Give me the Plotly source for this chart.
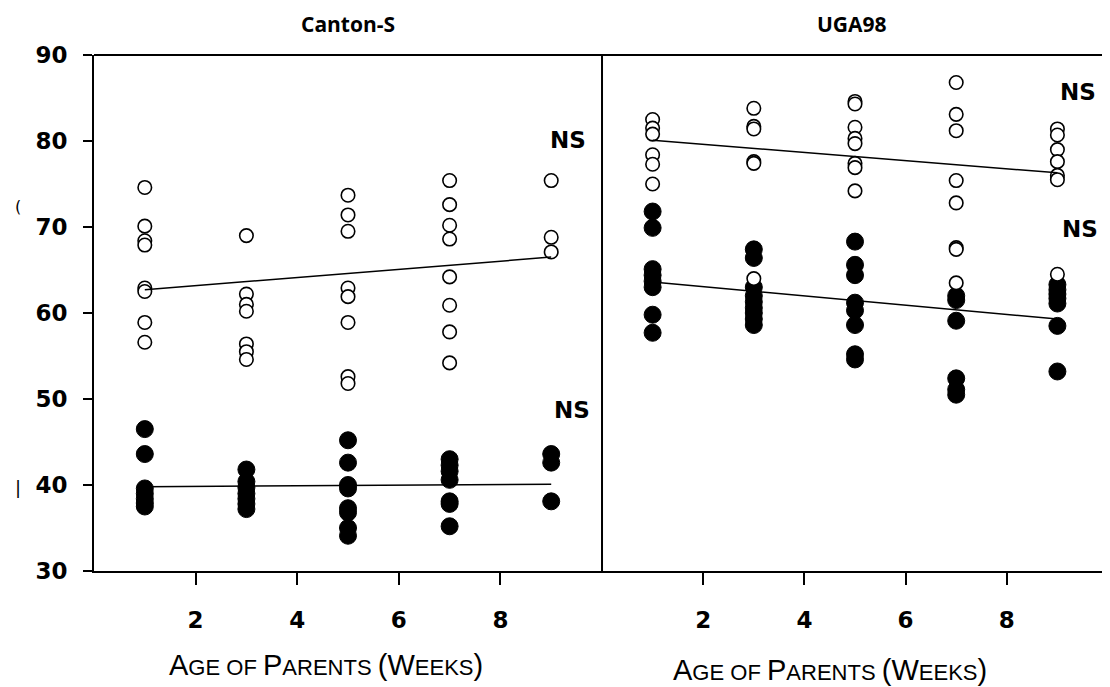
import plotly.graph_objects as go

# ---------------- data ----------------
ages = [1, 3, 5, 7, 9]

# Canton-S (left panel)
cs_open = {
    1: [74.6, 70.1, 68.4, 67.9, 62.9, 62.5, 58.9, 56.6],
    3: [69.0, 62.2, 61.0, 60.2, 56.4, 55.5, 54.6],
    5: [73.7, 71.4, 69.5, 62.9, 61.9, 58.9, 52.6, 51.8],
    7: [75.4, 72.6, 70.2, 68.6, 64.2, 60.9, 57.8, 54.2],
    9: [75.4, 68.8, 67.1],
}
cs_filled = {
    1: [46.5, 43.6, 39.6, 39.0, 38.4, 37.9, 37.5],
    3: [41.8, 40.4, 39.7, 39.0, 38.4, 37.8, 37.2],
    5: [45.2, 42.6, 40.0, 39.6, 37.3, 36.8, 35.0, 34.1],
    7: [43.0, 42.3, 41.6, 40.6, 38.1, 37.8, 35.2],
    9: [43.6, 42.6, 38.1],
}
cs_open_fit = [62.7, 66.5]     # fitted line values at age 1 and 9
cs_filled_fit = [39.8, 40.1]

# UGA98 (right panel)
uga_open = {
    1: [82.5, 81.5, 80.8, 78.4, 77.3, 75.0],
    3: [83.8, 81.7, 81.4, 77.6, 77.4, 64.0],
    5: [84.6, 84.3, 81.6, 80.3, 79.7, 77.4, 76.9, 74.2],
    7: [86.8, 83.1, 81.2, 75.4, 72.8, 67.6, 67.4, 63.5],
    9: [81.4, 80.7, 79.0, 77.6, 76.0, 75.5, 64.5],
}
uga_filled = {
    1: [71.8, 69.9, 65.1, 64.4, 63.7, 63.0, 59.8, 57.7],
    3: [67.4, 66.4, 63.0, 62.0, 61.3, 60.6, 60.0, 59.3, 58.6],
    5: [68.3, 65.6, 64.4, 61.2, 60.3, 58.6, 55.2, 54.6],
    7: [62.0, 61.5, 59.1, 52.4, 51.1, 50.5],
    9: [63.3, 62.7, 62.2, 61.7, 61.1, 58.5, 53.2],
}
uga_open_fit = [80.1, 76.3]
uga_filled_fit = [63.6, 59.3]

fit_x = [1, 9]
y_ticks = [30, 40, 50, 60, 70, 80, 90]
x_ticks = [2, 4, 6, 8]

titles = ["Canton-S", "UGA98"]
x_title = "Age of Parents (Weeks)"
ns_label = "NS"


def flat(d):
    xs, ys = [], []
    for a in ages:
        for v in d.get(a, []):
            xs.append(a)
            ys.append(v)
    return xs, ys


fig = go.Figure()

panels = [
    ("x", cs_open, cs_filled, cs_open_fit, cs_filled_fit),
    ("x2", uga_open, uga_filled, uga_open_fit, uga_filled_fit),
]

for xa, op, fi, ofit, ffit in panels:
    fx, fy = flat(fi)
    fig.add_trace(go.Scatter(
        x=fx, y=fy, xaxis=xa, yaxis="y", mode="markers",
        marker=dict(symbol="circle", size=17, color="black",
                    line=dict(color="black", width=1)),
        showlegend=False, cliponaxis=False))
    ox, oy = flat(op)
    fig.add_trace(go.Scatter(
        x=ox, y=oy, xaxis=xa, yaxis="y", mode="markers",
        marker=dict(symbol="circle", size=13.5, color="white",
                    line=dict(color="black", width=1.6)),
        showlegend=False, cliponaxis=False))
    for fit in (ofit, ffit):
        fig.add_trace(go.Scatter(
            x=fit_x, y=fit, xaxis=xa, yaxis="y", mode="lines",
            line=dict(color="black", width=1.5),
            showlegend=False))

tick_font = dict(family="DejaVu Sans", size=23, color="black", weight="bold")

axis_common = dict(range=[0, 10], showgrid=False, zeroline=False,
                   showline=True, linecolor="black", linewidth=2,
                   ticks="outside", ticklen=12, tickwidth=1.5, tickcolor="black",
                   tickvals=x_ticks, ticktext=[str(t) for t in x_ticks],
                   tickfont=tick_font, ticklabelstandoff=15)

# the page body has an 8px margin, so the figure is sized/offset to compensate
fig.update_layout(
    width=1102, height=679,
    margin=dict(l=86, r=2, t=47, b=116),
    plot_bgcolor="white", paper_bgcolor="white",
    xaxis=dict(domain=[0, 0.501], anchor="y", **axis_common),
    xaxis2=dict(domain=[0.501, 1], anchor="y", **axis_common),
    yaxis=dict(range=[30, 90], anchor="x", showgrid=False, zeroline=False,
               showline=True, linecolor="black", linewidth=2,
               ticks="outside", ticklen=9, tickwidth=1.5, tickcolor="black",
               tickvals=y_ticks, ticktext=[str(t) for t in y_ticks],
               tickfont=tick_font, ticklabelstandoff=11),
)

# frame: top line, divider, right border
fig.add_shape(type="line", xref="paper", yref="paper", x0=0, x1=1, y0=1, y1=1,
              line=dict(color="black", width=2))
fig.add_shape(type="line", xref="paper", yref="paper", x0=0.501, x1=0.501, y0=0, y1=1,
              line=dict(color="black", width=2))
fig.add_shape(type="line", xref="paper", yref="paper", x0=1, x1=1, y0=0, y1=1,
              line=dict(color="#777777", width=2))

# panel titles
for xc, t in zip([0.2505, 0.7475], titles):
    fig.add_annotation(xref="paper", yref="paper", x=xc, y=1.060, text=t,
                       showarrow=False, xanchor="center", yanchor="middle",
                       font=dict(family="Open Sans", size=21, color="black", weight="bold"))

# x axis titles in small caps
def small_caps(s, big=29, small=22):
    out = []
    for ch in s:
        if ch.islower():
            out.append(f"<span style='font-size:{small}px'>{ch.upper()}</span>")
        elif ch == " ":
            out.append(f"<span style='font-size:{small}px'> </span>")
        else:
            out.append(f"<span style='font-size:{big}px'>{ch}</span>")
    return "".join(out)

for xc, yc in [(0.2288, -0.183), (0.7258, -0.192)]:
    fig.add_annotation(xref="paper", yref="paper", x=xc, y=yc,
                       text=small_caps(x_title), showarrow=False,
                       xanchor="center", yanchor="middle",
                       font=dict(family="Liberation Sans", size=29, color="black"))

# NS labels
ns_pos = [("x", 9.33, 80.1), ("x", 9.4, 48.7), ("x2", 9.4, 85.7), ("x2", 9.45, 69.8)]
for xa, xv, yv in ns_pos:
    fig.add_annotation(xref=xa, yref="y", x=xv, y=yv, text=ns_label, showarrow=False,
                       xanchor="center", yanchor="middle",
                       font=dict(family="DejaVu Sans", size=23, color="black", weight="bold"))

# clipped remnants of the y-axis title at the left edge
fig.add_annotation(xref="paper", yref="paper", x=-0.075, y=0.729, text="(",
                   showarrow=False, xanchor="center",
                   font=dict(family="DejaVu Sans", size=16, color="black"))
fig.add_annotation(xref="paper", yref="paper", x=-0.075, y=0.138, text="|",
                   showarrow=False, xanchor="center",
                   font=dict(family="DejaVu Sans", size=18, color="black"))

fig.write_html("out.html")
